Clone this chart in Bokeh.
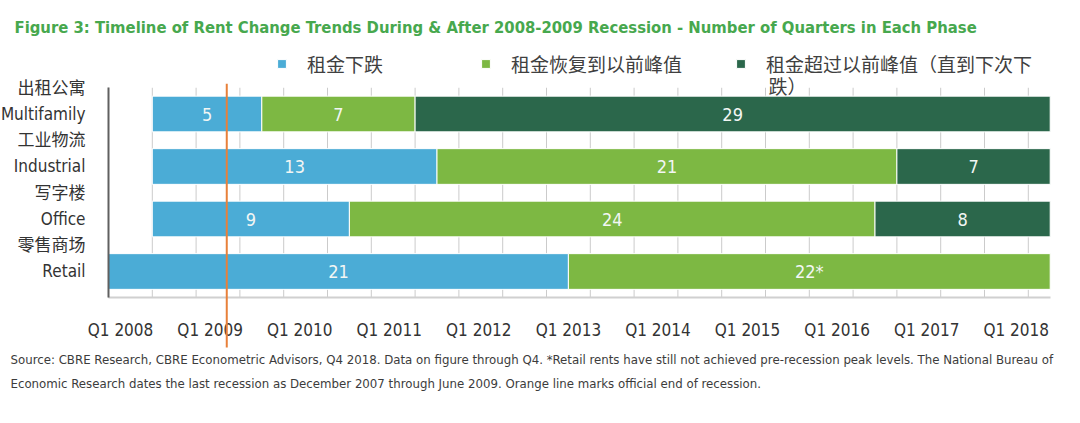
from bokeh.plotting import figure
from bokeh.models import (ColumnDataSource, FixedTicker, Legend, LegendItem, Title, Range1d, Label)
from bokeh.embed import file_html
from bokeh.resources import INLINE
from bokeh.core.properties import value

# ---------------- data ----------------
sectors_cn = ["出租公寓", "工业物流", "写字楼", "零售商场"]
sectors_en = ["Multifamily", "Industrial", "Office", "Retail"]
start_q = [2, 2, 2, 0]            # quarter (from axis origin) when rents started to fall
decline = [5, 13, 9, 21]          # 租金下跌
recovery = [7, 21, 24, 22]        # 租金恢复到以前峰值
above_peak = [29, 7, 8, 0]        # 租金超过以前峰值
recovery_text = ["7", "21", "24", "22*"]
phase_names = ["租金下跌", "租金恢复到以前峰值", "租金超过以前峰值（直到下次下"]
phase_3_wrap = "跌）"            # wrapped tail of the third legend label
tick_labels = ["Q1 2008", "Q1 2009", "Q1 2010", "Q1 2011", "Q1 2012", "Q1 2013",
               "Q1 2014", "Q1 2015", "Q1 2016", "Q1 2017", "Q1 2018"]
tick_q = [0.55, 4.64, 8.73, 12.82, 16.91, 21.0, 25.09, 29.18, 33.27, 37.36, 41.45]
recession_end_q = 5.4
total_q = 43

title_text = ("Figure 3: Timeline of Rent Change Trends During & After 2008-2009 Recession"
              " - Number of Quarters in Each Phase")
note_1 = ("Source: CBRE Research, CBRE Econometric Advisors, Q4 2018. Data on figure through Q4. "
          "*Retail rents have still not achieved pre-recession peak levels. The National Bureau of")
note_2 = ("Economic Research dates the last recession as December 2007 through June 2009. "
          "Orange line marks official end of recession.")

colors = ["#4bacd6", "#7db843", "#2b674b"]
NARROW = "DejaVu Sans Condensed, Roboto"
MIXED = "DejaVu Sans Condensed, Roboto, Noto Sans CJK SC"
CJK = "Noto Sans CJK SC"

n = len(sectors_en)
rows = [n - 1 - i for i in range(n)]

# ---- layout (pixels) ----
W, H = 1064, 405
PXQ = 21.9          # px per quarter
PXR = 52.5          # px per row
FRAME_TOP, FRAME_H = 43, 304
x0 = -108 / PXQ
y_top = 3 + 70.5 / PXR
y_bot = y_top - FRAME_H / PXR

p = figure(width=W, height=H, output_backend="svg", toolbar_location=None,
           x_range=Range1d(x0, x0 + W / PXQ), y_range=Range1d(y_bot, y_top),
           min_border_left=0, min_border_right=0, min_border_top=FRAME_TOP,
           min_border_bottom=H - FRAME_TOP - FRAME_H)
p.outline_line_color = None
p.background_fill_color = "white"

# vertical gridlines every 2 quarters, only across the bar area
grid_q = list(range(0, total_q, 2))
p.segment(x0=grid_q, x1=grid_q, y0=[-0.5] * len(grid_q), y1=[n - 0.5] * len(grid_q),
          line_color="#cbcbcb", line_width=1, level="underlay")

segments = []
left = list(start_q)
for vals in (decline, recovery, above_peak):
    right = [l + v for l, v in zip(left, vals)]
    segments.append((list(left), right, vals))
    left = right

renderers = []
for k, (l, r, vals) in enumerate(segments):
    keep = [i for i in range(n) if vals[i] > 0]
    src = ColumnDataSource(dict(y=[rows[i] for i in keep], left=[l[i] for i in keep],
                                right=[r[i] for i in keep]))
    rr = p.hbar(y="y", left="left", right="right", height=0.68, source=src,
                fill_color=colors[k], line_color="white", line_width=1)
    renderers.append(rr)

texts = [[str(v) for v in decline], recovery_text, [str(v) for v in above_peak]]
for k, (l, r, vals) in enumerate(segments):
    keep = [i for i in range(n) if vals[i] > 0]
    src = ColumnDataSource(dict(x=[(l[i] + r[i]) / 2 for i in keep], y=[rows[i] for i in keep],
                                t=[texts[k][i] for i in keep]))
    p.text(x="x", y="y", text="t", source=src, text_align="center", text_baseline="middle",
           text_color="#f2f6f4", text_font=value(NARROW), text_font_size="18px")

# orange line: official end of recession
p.segment(x0=[recession_end_q], x1=[recession_end_q], y0=[y_bot], y1=[n - 0.5 + 4 / PXR],
          line_color="#e8803a", line_width=2, level="overlay")

# axes (fixed inside the frame)
p.xaxis.fixed_location = -0.5
p.xaxis.bounds = (0, total_q)
p.xaxis.ticker = FixedTicker(ticks=tick_q)
p.xaxis.major_label_overrides = {t: s for t, s in zip(tick_q, tick_labels)}
p.xaxis.major_tick_line_color = None
p.xaxis.minor_tick_line_color = None
p.xaxis.axis_line_color = "#d0d0d0"
p.xaxis.axis_line_width = 2
p.xaxis.major_label_text_font = NARROW
p.xaxis.major_label_text_font_size = "17px"
p.xaxis.major_label_text_color = "#333333"
p.xaxis.major_label_standoff = 16

y_ticks = [r + 0.25 for r in rows]
p.yaxis.fixed_location = 0
p.yaxis.bounds = (-0.5, n - 0.5)
p.yaxis.ticker = FixedTicker(ticks=y_ticks)
p.yaxis.major_label_overrides = {t: f"{c}\n{e}" for t, c, e in zip(y_ticks, sectors_cn, sectors_en)}
p.yaxis.major_tick_line_color = None
p.yaxis.minor_tick_line_color = None
p.yaxis.axis_line_color = "#606060"
p.yaxis.axis_line_width = 2
p.yaxis.major_label_text_font = MIXED
p.yaxis.major_label_text_font_size = "17px"
p.yaxis.major_label_text_color = "#333333"
p.yaxis.major_label_text_line_height = 1.3
p.yaxis.major_label_standoff = 17

p.xgrid.grid_line_color = None
p.ygrid.grid_line_color = None

# legend (inside the frame, above the bars)
legend = Legend(items=[LegendItem(label=nm, renderers=[r]) for nm, r in zip(phase_names, renderers)],
                orientation="horizontal", location=(276, 270), padding=0, margin=0,
                border_line_color=None, background_fill_alpha=0,
                glyph_width=11, glyph_height=11, label_standoff=20, label_width=120,
                spacing=53, label_text_font=CJK, label_text_font_size="19px",
                label_text_color="#404040")
p.add_layout(legend)
# wrapped continuation of the third legend label
p.add_layout(Label(x=(768 - 108) / PXQ, y=3 + (114.5 - 86) / PXR, text=phase_3_wrap,
                   text_font=CJK, text_font_size="19px", text_color="#404040",
                   text_baseline="middle", text_align="left"))

# title
p.title.text = title_text
p.title.text_font = NARROW
p.title.text_font_style = "bold"
p.title.text_font_size = "16.5px"
p.title.text_color = "#47a84e"
p.title.align = "left"
p.title.offset = 14
p.title.standoff = 13

for txt, so in ((note_1, 4), (note_2, 11)):
    p.add_layout(Title(text=txt, align="left", offset=10, text_font=NARROW,
                       text_font_size="13.1px", text_font_style="normal",
                       text_color="#3c3c3c", standoff=so), "below")

open("out.html", "w").write(file_html(p, INLINE))
